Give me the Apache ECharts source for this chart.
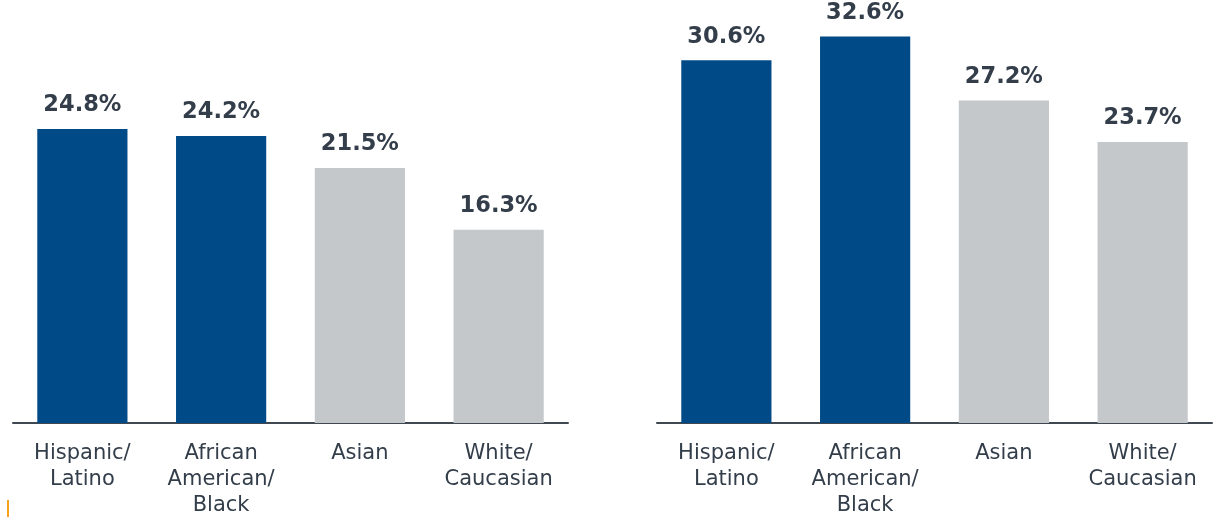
<!DOCTYPE html>
<html>
<head>
<meta charset="utf-8">
<script src="https://cdn.jsdelivr.net/npm/echarts@6/dist/echarts.min.js"></script>
<style>
html,body{margin:0;padding:0;background:#fff;}
#c{width:1224px;height:519px;}
</style>
</head>
<body>
<div id="c"></div>
<script>
const categories = ['Hispanic/\nLatino', 'African\nAmerican/\nBlack', 'Asian', 'White/\nCaucasian'];
const leftValues = [24.8, 24.2, 21.5, 16.3];
const rightValues = [30.6, 32.6, 27.2, 23.7];
const barColors = ['#004a87', '#004a87', '#c5c8cb', '#c5c8cb'];

const chart = echarts.init(document.getElementById('c'));
const textColor = '#333e4a';
function xAxis(gi){
  return {
    type:'category', gridIndex:gi, data:categories,
    axisLine:{show:true, lineStyle:{color:'#3f4851', width:2}},
    axisTick:{show:false},
    axisLabel:{color:textColor, fontFamily:'DejaVu Sans', fontSize:21, lineHeight:26, margin:18, interval:0}
  };
}
function yAxis(gi){
  return {type:'value', gridIndex:gi, min:0, max:35, show:false, splitLine:{show:false}};
}
function series(gi, vals){
  return {
    type:'bar', xAxisIndex:gi, yAxisIndex:gi, barCategoryGap:'35%',
    data: vals.map((v,i)=>({value:v, itemStyle:{color:barColors[i]}})),
    label:{show:true, position:'top', distance:12, formatter:p=>p.value.toFixed(1)+'%',
      color:textColor, fontFamily:'DejaVu Sans', fontWeight:'bold', fontSize:22.5}
  };
}
chart.setOption({
  animation:false,
  grid:[
    {left:13, width:555, top:8, bottom:91},
    {left:657, width:555, top:8, bottom:91}
  ],
  xAxis:[xAxis(0), xAxis(1)],
  yAxis:[yAxis(0), yAxis(1)],
  series:[series(0,leftValues), series(1,rightValues)],
  graphic:[{type:'rect', left:7, top:500, shape:{width:2, height:17}, style:{fill:'#f5a11c'}}]
});
</script>
</body>
</html>
